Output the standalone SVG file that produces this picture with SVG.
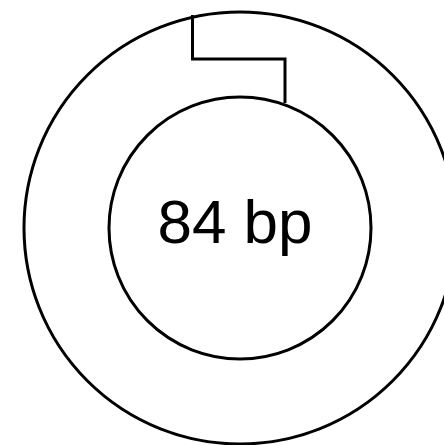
<svg xmlns="http://www.w3.org/2000/svg" width="444" height="445" viewBox="0 0 444 445">
<style>
.ring{fill:none;stroke:#000;stroke-width:3}
.lbl{font-family:"Liberation Sans",Arial,sans-serif;font-size:62px;fill:#000}
</style>
<rect width="444" height="445" fill="#fff"/>
<g id="outer"><circle class="ring" cx="240" cy="228" r="216"/></g>
<g id="inner"><circle class="ring" cx="240" cy="228" r="131"/>
<text class="lbl" x="235" y="243" text-anchor="middle">84 bp</text></g>
<g id="connectors"><path class="ring" d="M192.5,15 V59 H285 V103"/></g>
</svg>
